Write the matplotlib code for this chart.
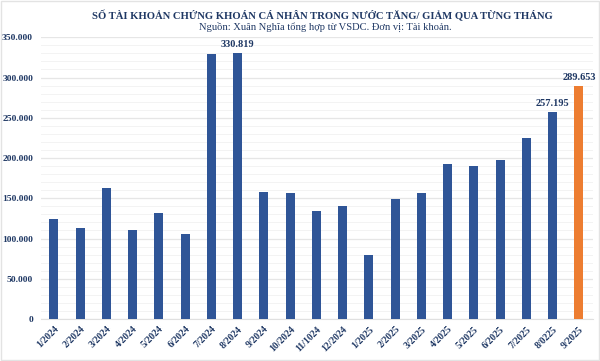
import matplotlib
matplotlib.use('Agg')
import matplotlib.pyplot as plt
from matplotlib.ticker import FuncFormatter, MultipleLocator
from matplotlib.patches import Rectangle

months = ['1/2024', '2/2024', '3/2024', '4/2024', '5/2024', '6/2024', '7/2024',
          '8/2024', '9/2024', '10/2024', '11/1024', '12/2024', '1/2025', '2/2025',
          '3/2025', '4/2025', '5/2025', '6/2025', '7/2025', '8/0225', '9/2025']
accounts = [124300, 112700, 162800, 110200, 131300, 106000, 328800,
            330819, 157800, 156100, 134200, 140000, 79900, 149100,
            156100, 193000, 189700, 198000, 224900, 257195, 289653]
labeled = {7: '330.819', 19: '257.195', 20: '289.653'}

navy = '#1F3864'
blue = '#2F5597'
orange = '#ED7D31'

plt.rcParams['font.family'] = ['Liberation Serif', 'DejaVu Serif']

fig = plt.figure(figsize=(6, 3.61), dpi=100)
ax = fig.add_axes([0.068, 0.1163, 0.92, 0.7804])

colors = [blue] * (len(accounts) - 1) + [orange]
x = range(len(accounts))
ax.bar(x, accounts, width=0.34, color=colors, zorder=3)

for i, txt in labeled.items():
    ax.text(i, accounts[i] + 5000, txt, ha='center', va='bottom',
            fontsize=7.5, fontweight='bold', color=navy)

ax.set_ylim(0, 350000)
ax.set_xlim(-0.5, 20.53)
ax.yaxis.set_major_locator(MultipleLocator(50000))
ax.yaxis.set_minor_locator(MultipleLocator(10000))
ax.yaxis.set_major_formatter(FuncFormatter(lambda v, p: f'{int(v):,}'.replace(',', '.')))
ax.grid(axis='y', which='major', color='#E6E6E6', linewidth=0.9, zorder=0)
ax.grid(axis='y', which='minor', color='#F3F3F3', linewidth=0.7, zorder=0)

ax.set_xticks(list(x))
ax.set_xticklabels(months, rotation=45, ha='right', rotation_mode='anchor')
for lab in ax.get_xticklabels():
    lab.set_fontsize(7)
    lab.set_fontweight('bold')
    lab.set_color(navy)
for lab in ax.get_yticklabels():
    lab.set_fontsize(6.8)
    lab.set_fontweight('bold')
    lab.set_color(navy)
ax.tick_params(axis='both', which='both', length=0)
ax.tick_params(axis='y', pad=5.5)
ax.tick_params(axis='x', pad=4)

for s in ['top', 'right', 'left']:
    ax.spines[s].set_visible(False)
ax.spines['bottom'].set_color('#E0E0E0')

fig.text(0.5375, 0.958, 'SỐ TÀI KHOẢN CHỨNG KHOÁN CÁ NHÂN TRONG NƯỚC TĂNG/ GIẢM QUA TỪNG THÁNG',
         ha='center', va='center', fontsize=7.7, fontweight='bold', color=navy)
fig.text(0.542, 0.926, 'Nguồn: Xuân Nghĩa tổng hợp từ VSDC. Đơn vị: Tài khoản.',
         ha='center', va='center', fontsize=7.6, color=navy)

fig.patches.append(Rectangle((0.002, 0.003), 0.996, 0.994, transform=fig.transFigure,
                             fill=False, edgecolor='#E3E3E3', linewidth=1))

fig.savefig('out.png', dpi=100)
